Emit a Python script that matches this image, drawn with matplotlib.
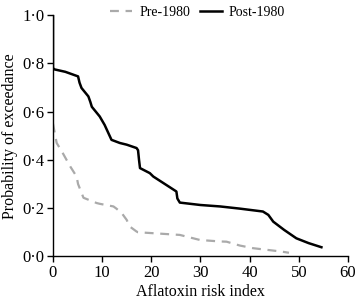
import matplotlib
matplotlib.use("Agg")
import matplotlib.pyplot as plt

plt.rcParams['font.family'] = ['Liberation Serif', 'DejaVu Serif']

post_x = [0, 0, 0.3, 2.5, 5.1, 5.4, 5.8, 7.2, 7.6, 7.9, 9.5, 10.5, 11.9, 13.6, 15.0, 17.0, 17.3, 17.5, 17.7, 19.7, 20.4, 25.1, 25.3, 25.8, 30, 34, 38, 42.7, 43.8, 44.8, 47, 49.5, 52, 54.6]
post_y = [1.0, 0.781, 0.775, 0.765, 0.746, 0.72, 0.698, 0.663, 0.64, 0.62, 0.58, 0.545, 0.483, 0.47, 0.463, 0.449, 0.44, 0.40, 0.366, 0.345, 0.331, 0.269, 0.24, 0.223, 0.213, 0.207, 0.198, 0.186, 0.172, 0.144, 0.11, 0.075, 0.055, 0.038]

pre_x = [0, 0.75, 1.8, 3.5, 4.8, 5.1, 6.2, 8.9, 9.5, 12.3, 12.9, 14.0, 15.0, 15.6, 17.0, 17.3, 19.7, 25.8, 29.9, 33.9, 35.3, 38.0, 40.7, 46.5, 48.0]
pre_y = [0.55, 0.47, 0.435, 0.373, 0.331, 0.30, 0.243, 0.221, 0.218, 0.207, 0.198, 0.179, 0.151, 0.124, 0.103, 0.100, 0.097, 0.089, 0.068, 0.062, 0.061, 0.045, 0.034, 0.020, 0.015]

x_ticks = [0, 10, 20, 30, 40, 50, 60]
y_ticks = [0.0, 0.2, 0.4, 0.6, 0.8, 1.0]
y_labels = ["0·0", "0·2", "0·4", "0·6", "0·8", "1·0"]

fig = plt.figure(figsize=(3.58, 3.02), dpi=100)
ax = fig.add_axes([0.148, 0.151, 0.824, 0.799])

ax.plot(pre_x, pre_y, color='#aaaaaa', lw=1.6, ls=(0, (4, 3)), label='Pre-1980')
ax.plot(post_x, post_y, color='black', lw=1.8, label='Post-1980')

ax.set_xlim(0, 60)
ax.set_ylim(0, 1.0)
ax.set_xticks(x_ticks)
ax.set_yticks(y_ticks)
ax.set_yticklabels(y_labels)
ax.tick_params(direction='out', length=4, width=1, labelsize=12, pad=2)
for s in ['top', 'right']:
    ax.spines[s].set_visible(False)
for s in ['left', 'bottom']:
    ax.spines[s].set_linewidth(1)

ax.set_xlabel('Aflatoxin risk index', fontsize=11.5, labelpad=2)
ax.set_ylabel('Probability of exceedance', fontsize=11.5, labelpad=3)

leg = ax.legend(loc='center', bbox_to_anchor=(0.49, 1.012), ncol=2, frameon=False,
                fontsize=10, handlelength=1.6, columnspacing=0.7, handletextpad=0.5,
                borderpad=0, borderaxespad=0)

fig.savefig('out.png', dpi=100)
